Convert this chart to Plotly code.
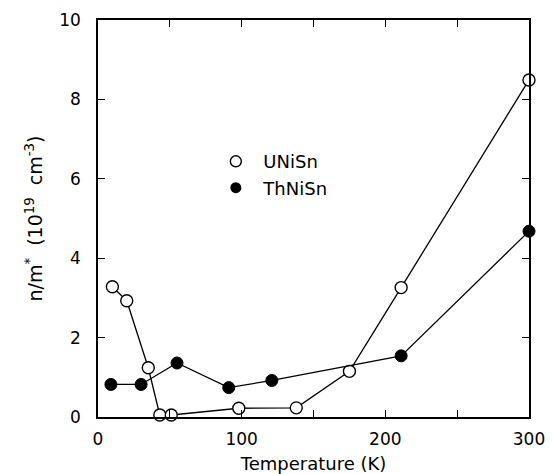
import plotly.graph_objects as go

# UNiSn (open circles)
u_temp = [10, 20, 35, 43, 51, 98, 138, 175, 211, 300]
u_val = [3.28, 2.93, 1.24, 0.05, 0.05, 0.22, 0.23, 1.15, 3.26, 8.49]

# ThNiSn (filled circles)
th_temp = [9, 30, 55, 91, 121, 211, 300]
th_val = [0.82, 0.82, 1.36, 0.74, 0.92, 1.54, 4.68]

x_tickvals = [0, 100, 200, 300]
x_ticktext = ["0", "100", "200", "300"]
y_tickvals = [0, 2, 4, 6, 8, 10]
y_ticktext = ["0", "2", "4", "6", "8", "10"]

FONT = "DejaVu Sans, Verdana, sans-serif"

fig = go.Figure()
fig.add_trace(go.Scatter(
    x=u_temp, y=u_val, mode="lines+markers", name="UNiSn", showlegend=False,
    line=dict(color="black", width=1.3),
    marker=dict(symbol="circle", size=12, color="white", line=dict(color="black", width=1.4)),
    cliponaxis=False,
))
fig.add_trace(go.Scatter(
    x=th_temp, y=th_val, mode="lines+markers", name="ThNiSn", showlegend=False,
    line=dict(color="black", width=1.3),
    marker=dict(symbol="circle", size=12, color="black", line=dict(color="black", width=1)),
    cliponaxis=False,
))
# legend entries (markers only)
fig.add_trace(go.Scatter(
    x=[None], y=[None], mode="markers", name="UNiSn",
    marker=dict(symbol="circle", size=11, color="white", line=dict(color="black", width=1.4)),
))
fig.add_trace(go.Scatter(
    x=[None], y=[None], mode="markers", name="ThNiSn",
    marker=dict(symbol="circle", size=11, color="black"),
))

fig.update_layout(
    width=552, height=474,
    margin=dict(l=98, r=23, t=20, b=57, autoexpand=False),
    paper_bgcolor="white", plot_bgcolor="white",
    font=dict(family=FONT, size=17, color="black"),
    showlegend=True,
    legend=dict(x=0.256, y=0.69, xanchor="left", yanchor="top",
                bgcolor="rgba(0,0,0,0)", font=dict(size=18), tracegroupgap=0,
                itemwidth=45),
    xaxis=dict(
        range=[0, 300], tickvals=x_tickvals, ticktext=x_ticktext,
        ticks="inside", ticklen=7, tickwidth=1.2, tickcolor="black",
        minor=dict(dtick=50, tick0=0, ticks="inside", ticklen=7, tickwidth=1.2,
                   tickcolor="black", showgrid=False),
        showline=True, linecolor="black", linewidth=1.5, mirror="ticks",
        showgrid=False, zeroline=False, ticklabelstandoff=6, automargin=False,
        title=dict(text="Temperature (K)", standoff=9, font=dict(size=18)),
    ),
    yaxis=dict(
        range=[0, 10], tickvals=y_tickvals, ticktext=y_ticktext,
        ticks="inside", ticklen=7, tickwidth=1.2, tickcolor="black",
        showline=True, linecolor="black", linewidth=1.5, mirror="ticks",
        showgrid=False, zeroline=False, ticklabelstandoff=12, automargin=False,
        title=dict(text="n/m<sup>*</sup>\u00a0\u00a0(10<sup>19</sup>\u00a0\u00a0cm<sup>-3</sup>)",
                   standoff=12, font=dict(size=19)),
    ),
)

fig.write_html("out.html", config={"displayModeBar": False},
               post_script="document.body.style.margin='0px';document.body.style.padding='0px';")
